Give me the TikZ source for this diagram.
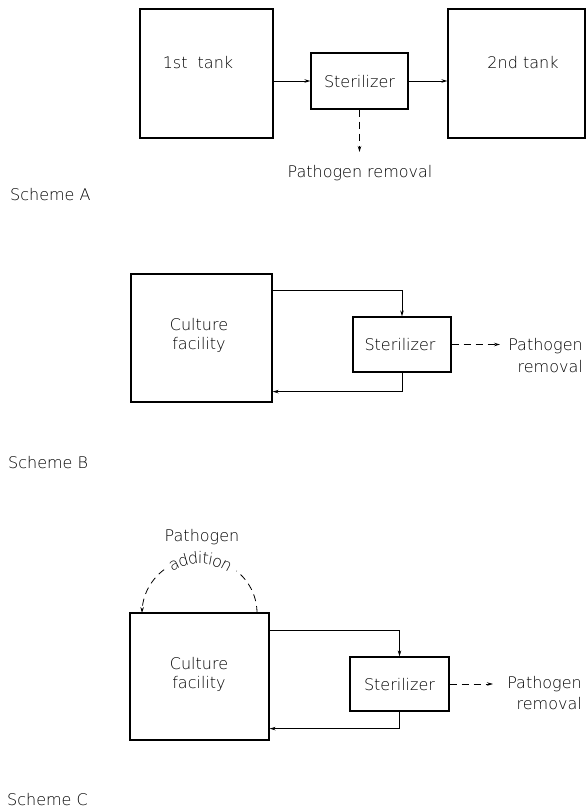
\documentclass[tikz,border=0pt]{standalone}
\usepackage{fontspec}
\setmainfont{DejaVu Sans ExtraLight}
\usetikzlibrary{arrows.meta,decorations.text}
\begin{document}
\begin{tikzpicture}[x=1pt,y=-1pt,
  box/.style={draw,line width=1.2pt,inner sep=0pt},
  lbl/.style={font=\fontsize{16}{19}\selectfont,inner sep=0pt},
  flow/.style={line width=0.8pt,-{Stealth[length=6pt,width=3.5pt]}},
  dflow/.style={flow,dash pattern=on 7pt off 5pt}]
\useasboundingbox (0,0) rectangle (587,808);

% ---------- Scheme A ----------
\node[box,minimum width=133pt,minimum height=129pt] (t1) at (206.5,73.5) {};
\node[box,minimum width=97pt,minimum height=56pt] (s1) at (359.5,81) {};
\node[box,minimum width=137pt,minimum height=129pt] (t2) at (516.5,73.5) {};
\node[lbl,anchor=base] (t1l) at (198,68) {1st\ \ tank};
\node[lbl,anchor=base] (t2l) at (523,68) {2nd tank};
\node[lbl,anchor=base] (s1l) at (359.5,88) {Sterilizer};
\draw[flow] (t1.east |- s1.west) -- (s1.west);
\draw[flow] (s1.east) -- (t2.west |- s1.east);
\coordinate (pr1) at (359.5,152);
\draw[dflow] (s1.south) -- (pr1);
\node[lbl,anchor=base] (prt1) at (360,177) {Pathogen removal};
\node[lbl,anchor=base west] (sa) at (10,200.5) {Scheme A};

% ---------- Scheme B ----------
\node[box,minimum width=141pt,minimum height=128pt] (cf2) at (201.5,338) {};
\node[box,minimum width=98pt,minimum height=55pt] (s2) at (402,344.5) {};
\node[lbl,align=center] (cf2l) at (199,335.3) {Culture\\facility};
\node[lbl,anchor=base] (s2l) at (400,350) {Sterilizer};
\draw[flow] ([yshift=-17pt]cf2.north east) -| (s2.north);
\draw[flow] (s2.south) |- ([yshift=11pt]cf2.south east);
\coordinate (pr2) at (500,344.5);
\draw[dflow] (s2.east) -- (pr2);
\node[lbl,align=right,anchor=base east,font=\fontsize{16}{22}\selectfont] (prt2) at (583,372) {Pathogen\\removal};
\node[lbl,anchor=base west] (sb) at (8,468) {Scheme B};

% ---------- Scheme C ----------
\node[box,minimum width=139pt,minimum height=127pt] (cf3) at (199.5,676.5) {};
\node[box,minimum width=99pt,minimum height=54pt] (s3) at (399.5,684) {};
\node[lbl,align=center] (cf3l) at (199,674.3) {Culture\\facility};
\node[lbl,anchor=base] (s3l) at (399.5,690) {Sterilizer};
\draw[flow] ([yshift=-18pt]cf3.north east) -| (s3.north);
\draw[flow] (s3.south) |- ([yshift=12pt]cf3.south east);
\coordinate (pr3) at (493,684);
\draw[dflow] (s3.east) -- (pr3);
\node[lbl,align=right,anchor=base east,font=\fontsize{16}{21}\selectfont] (prt3) at (582,709) {Pathogen\\removal};
\node[lbl,anchor=base west] (sc) at (7,805) {Scheme C};

% pathogen addition arc
\node[lbl,anchor=base] (pa) at (202,541) {Pathogen};
\draw[line width=0.8pt,dash pattern=on 7pt off 5pt]
  plot[domain=0:50,samples=25] ({199.5+57.5*cos(\x)},{613-55*sin(\x)});
\draw[line width=0.8pt,dash pattern=on 7pt off 5pt,-{Stealth[length=6pt,width=3.5pt]}]
  plot[domain=128:180,samples=25] ({199.5+57.5*cos(\x)},{613-55*sin(\x)});
\path[decorate,decoration={text along path,text align=center,raise=-6pt,
  text={|\fontsize{16}{16}\selectfont|addition}}]
  plot[domain=128:50,samples=40] ({199.5+57.5*cos(\x)},{613-55*sin(\x)});
\end{tikzpicture}
\end{document}
